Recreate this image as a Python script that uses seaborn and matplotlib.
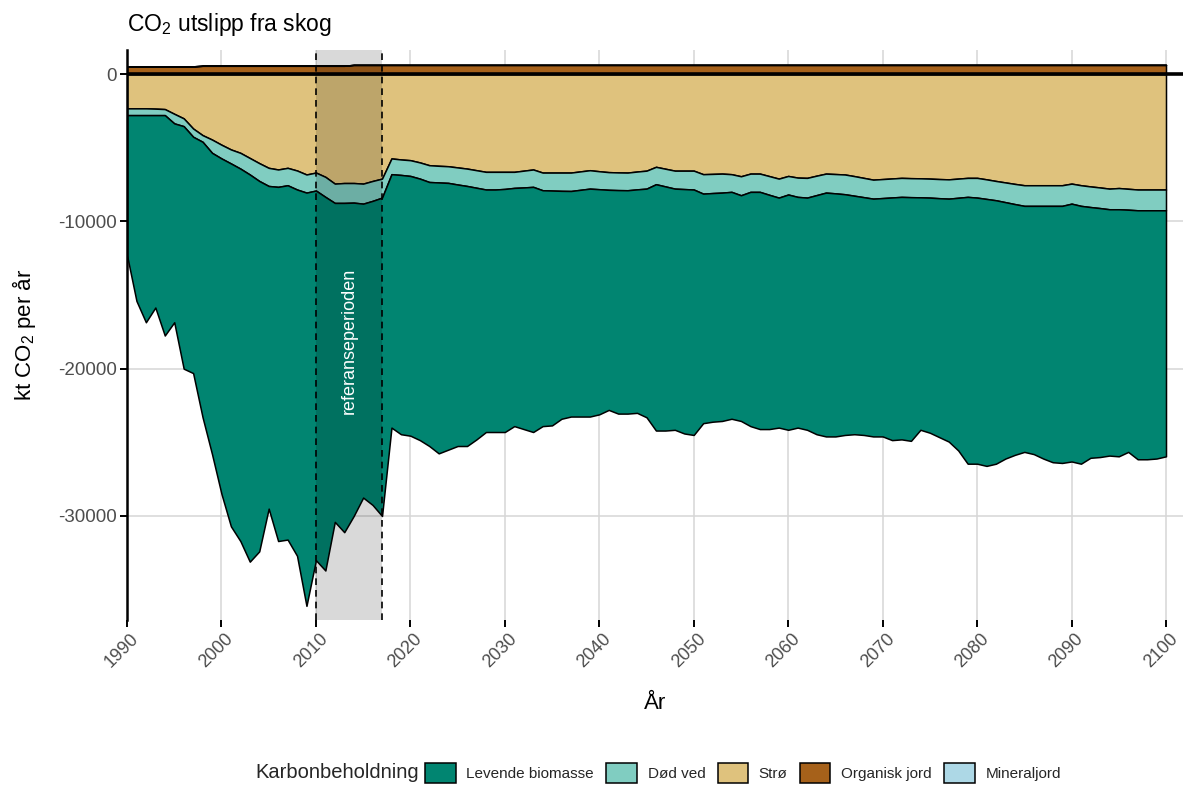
import numpy as np
import pandas as pd
import seaborn as sns
from matplotlib import pyplot as plt
from matplotlib import transforms

# CO2 utslipp fra skog - stacked area per karbonbeholdning

years = list(range(1990, 2101))

# Strø (kt CO2 per år)
stro = [-2330, -2330, -2330, -2350, -2380, -2700, -3010, -3700, -4150, -4450,
        -4800, -5120, -5350, -5700, -6050, -6370, -6480, -6370, -6550, -6820,
        -6690, -6980, -7440, -7400, -7400, -7440, -7260, -7100, -5730, -5800,
        -5850, -6000, -6190, -6230, -6260, -6340, -6420, -6530, -6640, -6640,
        -6640, -6640, -6560, -6480, -6690, -6690, -6690, -6690, -6610, -6530,
        -6600, -6660, -6680, -6690, -6620, -6560, -6300, -6430, -6560, -6560,
        -6560, -6800, -6780, -6760, -6800, -6940, -6760, -6760, -6930, -7100,
        -6920, -7030, -7050, -6900, -6760, -6790, -6820, -6930, -7050, -7170,
        -7130, -7090, -7050, -7070, -7080, -7100, -7130, -7150, -7100, -7050,
        -7050, -7150, -7260, -7360, -7460, -7550, -7550, -7550, -7550, -7550,
        -7440, -7550, -7630, -7700, -7780, -7740, -7790, -7840, -7840, -7840,
        -7840]

# Død ved
dod_ved = [-460, -460, -460, -440, -410, -650, -530, -560, -450, -900,
           -930, -950, -1070, -1120, -1210, -1230, -1180, -1180, -1290, -1230,
           -1220, -1360, -1310, -1350, -1330, -1360, -1350, -1290, -1070, -1050,
           -1070, -1100, -1140, -1130, -1130, -1160, -1180, -1190, -1200, -1200,
           -1160, -1090, -1140, -1180, -1200, -1220, -1240, -1250, -1250, -1250,
           -1220, -1200, -1200, -1200, -1210, -1220, -1180, -1200, -1220, -1250,
           -1280, -1320, -1300, -1290, -1200, -1290, -1240, -1240, -1270, -1290,
           -1260, -1310, -1340, -1320, -1290, -1310, -1340, -1330, -1310, -1290,
           -1290, -1290, -1290, -1290, -1290, -1290, -1300, -1310, -1300, -1290,
           -1340, -1330, -1310, -1340, -1370, -1400, -1400, -1400, -1400, -1400,
           -1360, -1400, -1400, -1400, -1400, -1440, -1420, -1410, -1410, -1410,
           -1410]

# Levende biomasse
levende = [-9510, -12610, -14060, -13060, -14960, -13500, -16460, -16040, -18700, -20450,
           -22770, -24630, -25280, -26280, -25140, -21900, -24040, -24050, -24860, -28050,
           -25090, -25360, -21650, -22350, -21270, -19950, -20640, -21610, -17200, -17600,
           -17630, -17750, -17920, -18390, -18110, -17750, -17650, -17080, -16460, -16460,
           -16500, -16170, -16400, -16640, -16010, -15940, -15470, -15310, -15390, -15470,
           -15280, -14940, -15170, -15160, -15170, -15520, -16720, -16570, -16370, -16590,
           -16660, -15580, -15520, -15500, -15400, -15320, -15900, -16100, -15900, -15610,
           -15970, -15660, -15760, -16230, -16550, -16500, -16340, -16190, -16140, -16140,
           -16180, -16470, -16460, -16540, -15780, -15960, -16220, -16490, -17150, -18110,
           -18060, -18120, -17880, -17400, -17020, -16700, -16850, -17150, -17400, -17450,
           -17500, -17500, -17020, -16900, -16720, -16770, -16440, -16900, -16900, -16850,
           -16700]

# Organisk jord (positiv)
organisk = [520] * 8 + [560] * 16 + [620] * 87

# Mineraljord (ca. null)
mineral = [0] * 111

ref_start, ref_end = 2010, 2017

df = pd.DataFrame({"Aar": years, "Strø": stro, "Død ved": dod_ved,
                   "Levende biomasse": levende, "Organisk jord": organisk,
                   "Mineraljord": mineral})

colors = {"Levende biomasse": "#018571", "Død ved": "#80cdc1", "Strø": "#dfc27d",
          "Organisk jord": "#a6611a", "Mineraljord": "#add8e6"}

sns.set_theme(style="whitegrid")
plt.rcParams['font.family'] = ['Liberation Sans', 'DejaVu Sans']
plt.rcParams['axes.unicode_minus'] = False
plt.rcParams['mathtext.default'] = 'regular'

fig = plt.figure(figsize=(11.83, 7.85), dpi=100)
ax = fig.add_axes([127 / 1183, 1 - 620 / 785, 1 - 127 / 1183, (620 - 50) / 785])

handles = {}
# negative stack, from zero downwards
base = np.zeros(len(df))
for name in ["Strø", "Død ved", "Levende biomasse"]:
    top = base + df[name].values
    handles[name] = ax.fill_between(df["Aar"], base, top, facecolor=colors[name],
                                    edgecolor="black", linewidth=1.1, zorder=2)
    base = top
# positive stack
pbase = np.zeros(len(df))
for name in ["Organisk jord", "Mineraljord"]:
    top = pbase + df[name].values
    handles[name] = ax.fill_between(df["Aar"], pbase, top, facecolor=colors[name],
                                    edgecolor="black", linewidth=1.1, zorder=2)
    pbase = top

ax.axhline(0, color="black", linewidth=2.6, zorder=4)

# referanseperioden
ax.axvspan(ref_start, ref_end, color="black", alpha=0.15, linewidth=0, zorder=3)
for xv in [ref_start, ref_end]:
    ax.axvline(xv, color="black", linestyle=(0, (4, 3)), linewidth=1.2, zorder=5)
ax.text((ref_start + ref_end) / 2, -18100, "referanseperioden", rotation=90,
        color="white", fontsize=13, ha="center", va="center", zorder=6)

ax.set_xlim(1990, 2101.8)
ax.set_ylim(-37060, 1630)
ax.set_xticks(range(1990, 2101, 10))
ax.set_yticks([0, -10000, -20000, -30000])
ax.set_yticklabels(["0", "-10000", "-20000", "-30000"])
ax.grid(True, color="#d6d6d6", linewidth=1.1)
ax.set_axisbelow(True)
ax.set_facecolor("white")
for s in ["top", "right", "bottom"]:
    ax.spines[s].set_visible(False)
ax.spines["left"].set_color("black")
ax.spines["left"].set_linewidth(1.8)
ax.tick_params(axis="both", colors="black", labelcolor="#4d4d4d", labelsize=13.5,
               length=5, width=1.4, left=True, bottom=True, pad=2.5)
ax.tick_params(axis="x", labelsize=13)
shift = transforms.ScaledTranslation(-5 / 100, 0, fig.dpi_scale_trans)
for lbl in ax.get_xticklabels():
    lbl.set_rotation(45)
    lbl.set_ha("center")
    lbl.set_va("top")
    lbl.set_transform(lbl.get_transform() + shift)

ax.set_xlabel("År", fontsize=16, labelpad=16, color="black")
ax.set_ylabel("kt CO$_2$ per år", fontsize=16, labelpad=14, color="black")
ax.set_title("CO$_2$ utslipp fra skog", loc="left", fontsize=16.5, pad=14, color="black")

order = ["Levende biomasse", "Død ved", "Strø", "Organisk jord", "Mineraljord"]
fig.legend([handles[n] for n in order], order, ncol=5, loc="center",
           bbox_to_anchor=(743 / 1183, 1 - 773 / 785), frameon=False, fontsize=11,
           handlelength=2.0, handleheight=1.7, handletextpad=0.7, columnspacing=0.8)
fig.text(255 / 1183, 1 - 773 / 785, "Karbonbeholdning", fontsize=14.5,
         ha="left", va="center")

fig.savefig("out.png", dpi=100)
